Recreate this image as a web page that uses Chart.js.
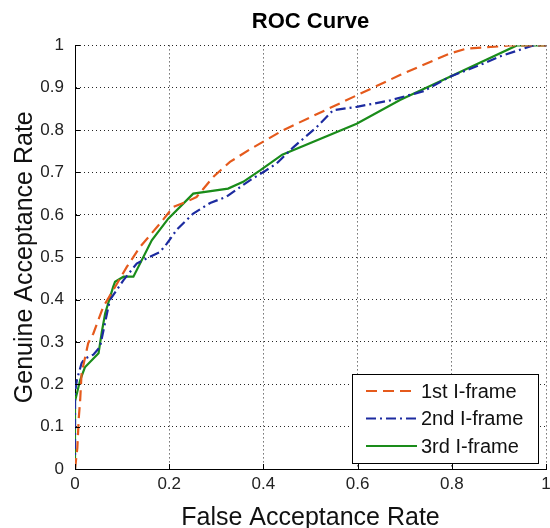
<!DOCTYPE html>
<html><head><meta charset="utf-8">
<script src="https://cdn.jsdelivr.net/npm/chart.js@4"></script>
<style>html,body{margin:0;padding:0;background:#fff}#wrap{width:550px;height:528px}</style>
</head><body><div id="wrap"><canvas id="c" width="550" height="528"></canvas></div>
<script>
const seriesNames = ['1st I-frame', '2nd I-frame', '3rd I-frame'];

const far1 = [0, 0.005, 0.008, 0.011, 0.014, 0.028, 0.039, 0.06, 0.081, 0.11, 0.138, 0.18, 0.209, 0.237, 0.258, 0.294, 0.329, 0.372, 0.442, 0.598, 0.69, 0.796, 0.83, 0.924, 1];
const gar1 = [0, 0.05, 0.12, 0.163, 0.226, 0.297, 0.32, 0.383, 0.422, 0.477, 0.524, 0.579, 0.619, 0.631, 0.642, 0.69, 0.725, 0.755, 0.8, 0.882, 0.93, 0.981, 0.992, 1.0, 1];

const far2 = [0, 0, 0.004, 0.014, 0.02, 0.039, 0.053, 0.074, 0.103, 0.131, 0.159, 0.18, 0.195, 0.216, 0.251, 0.287, 0.322, 0.372, 0.40, 0.428, 0.464, 0.513, 0.548, 0.598, 0.669, 0.74, 0.796, 0.867, 0.902, 0.973, 1];
const gar2 = [0, 0.18, 0.21, 0.25, 0.26, 0.27, 0.288, 0.399, 0.446, 0.485, 0.501, 0.512, 0.532, 0.565, 0.603, 0.628, 0.643, 0.682, 0.701, 0.721, 0.76, 0.807, 0.847, 0.855, 0.87, 0.892, 0.926, 0.957, 0.974, 1.0, 1];

const far3 = [0, 0, 0.011, 0.021, 0.05, 0.057, 0.064, 0.081, 0.085, 0.103, 0.124, 0.163, 0.198, 0.251, 0.325, 0.357, 0.393, 0.44, 0.598, 0.69, 0.796, 0.938, 1];
const gar3 = [0, 0.16, 0.21, 0.24, 0.273, 0.324, 0.367, 0.43, 0.442, 0.454, 0.454, 0.54, 0.591, 0.65, 0.662, 0.678, 0.705, 0.742, 0.815, 0.871, 0.926, 1.0, 1];

const xTickValues = [0, 0.2, 0.4, 0.6, 0.8, 1];
const yTickValues = [0, 0.1, 0.2, 0.3, 0.4, 0.5, 0.6, 0.7, 0.8, 0.9, 1];

const toPoints = (xs, ys) => xs.map((x, i) => ({x: x, y: ys[i]}));
const fmt = v => String(Number(Number(v).toFixed(2)));
const FONT = "'Liberation Sans', Arial, Helvetica, sans-serif";

const tickMarks = {
  id: 'tickMarks',
  afterDraw(chart) {
    const ctx = chart.ctx, a = chart.chartArea;
    const xs = chart.scales.x, ys = chart.scales.y;
    ctx.save();
    ctx.strokeStyle = '#000'; ctx.lineWidth = 1; ctx.setLineDash([]);
    ctx.beginPath();
    xs.ticks.forEach(t => { const px = Math.round(xs.getPixelForValue(t.value)) + 0.5; ctx.moveTo(px, a.bottom); ctx.lineTo(px, a.bottom - 5); });
    ys.ticks.forEach(t => { const py = Math.round(ys.getPixelForValue(t.value)) + 0.5; ctx.moveTo(a.left, py); ctx.lineTo(a.left + 5, py); });
    ctx.stroke();
    ctx.restore();
  }
};

const boxLegend = {
  id: 'boxLegend',
  afterDraw(chart) {
    const ctx = chart.ctx, a = chart.chartArea;
    const w = 186, h = 89;
    const bx = a.right - 8 - w, by = a.bottom - 6 - h;
    ctx.save();
    ctx.fillStyle = '#fff';
    ctx.fillRect(bx, by, w, h);
    ctx.strokeStyle = '#000'; ctx.lineWidth = 1; ctx.setLineDash([]);
    ctx.strokeRect(Math.round(bx) + 0.5, Math.round(by) + 0.5, w, h);
    ctx.font = '20px ' + FONT;
    ctx.textBaseline = 'middle';
    ctx.fillStyle = '#111';
    chart.data.datasets.forEach((ds, i) => {
      const cy = by + 17 + i * 27.5;
      ctx.strokeStyle = ds.borderColor; ctx.lineWidth = ds.borderWidth;
      ctx.setLineDash(ds.borderDash || []);
      ctx.beginPath(); ctx.moveTo(bx + 14, cy); ctx.lineTo(bx + 65, cy); ctx.stroke();
      ctx.setLineDash([]);
      ctx.fillText(ds.label, bx + 69, cy + 1);
    });
    ctx.restore();
  }
};

new Chart(document.getElementById('c'), {
  type: 'scatter',
  data: {
    datasets: [
      {label: seriesNames[0], data: toPoints(far1, gar1), borderColor: '#e55a1c', borderWidth: 2.2, borderDash: [11, 6], showLine: true, pointRadius: 0, tension: 0, fill: false},
      {label: seriesNames[1], data: toPoints(far2, gar2), borderColor: '#1c2ba0', borderWidth: 2.2, borderDash: [10, 4, 2, 4], showLine: true, pointRadius: 0, tension: 0, fill: false},
      {label: seriesNames[2], data: toPoints(far3, gar3), borderColor: '#1a8c1a', borderWidth: 2.2, showLine: true, pointRadius: 0, tension: 0, fill: false}
    ]
  },
  options: {
    responsive: false,
    animation: false,
    devicePixelRatio: 1,
    layout: {padding: {left: 0, right: 4, top: 0, bottom: 0}},
    plugins: {
      legend: {display: false},
      tooltip: {enabled: false},
      title: {display: true, text: 'ROC Curve', fullSize: false, color: '#000', font: {family: FONT, size: 22, weight: 'bold'}, padding: {top: 9, bottom: 10}}
    },
    scales: {
      x: {
        type: 'linear', min: 0, max: 1,
        afterBuildTicks: s => { s.ticks = xTickValues.map(v => ({value: v})); },
        afterFit: s => { s.height = 59; s.paddingLeft = 0; s.paddingRight = 0; },
        ticks: {callback: v => fmt(v), color: '#222', font: {family: FONT, size: 17}, padding: 5, maxRotation: 0},
        grid: {color: 'rgba(0,0,0,0.85)', lineWidth: 1, drawTicks: false},
        border: {display: true, color: '#000', width: 1, dash: [1, 3]},
        title: {display: true, text: 'False Acceptance Rate', color: '#111', font: {family: FONT, size: 25, lineHeight: 1}, padding: {top: 2, bottom: -3}}
      },
      y: {
        type: 'linear', min: 0, max: 1,
        afterBuildTicks: s => { s.ticks = yTickValues.map(v => ({value: v})); },
        afterFit: s => { s.width = 75; s.paddingTop = 0; s.paddingBottom = 0; },
        ticks: {callback: v => fmt(v), color: '#222', font: {family: FONT, size: 17}, padding: 11},
        grid: {color: 'rgba(0,0,0,0.85)', lineWidth: 1, drawTicks: false},
        border: {display: true, color: '#000', width: 1, dash: [1, 3]},
        title: {display: true, text: 'Genuine Acceptance Rate', color: '#111', font: {family: FONT, size: 25}, padding: {top: 10, bottom: 0}}
      }
    }
  },
  plugins: [tickMarks, boxLegend]
});
</script>
</body></html>
